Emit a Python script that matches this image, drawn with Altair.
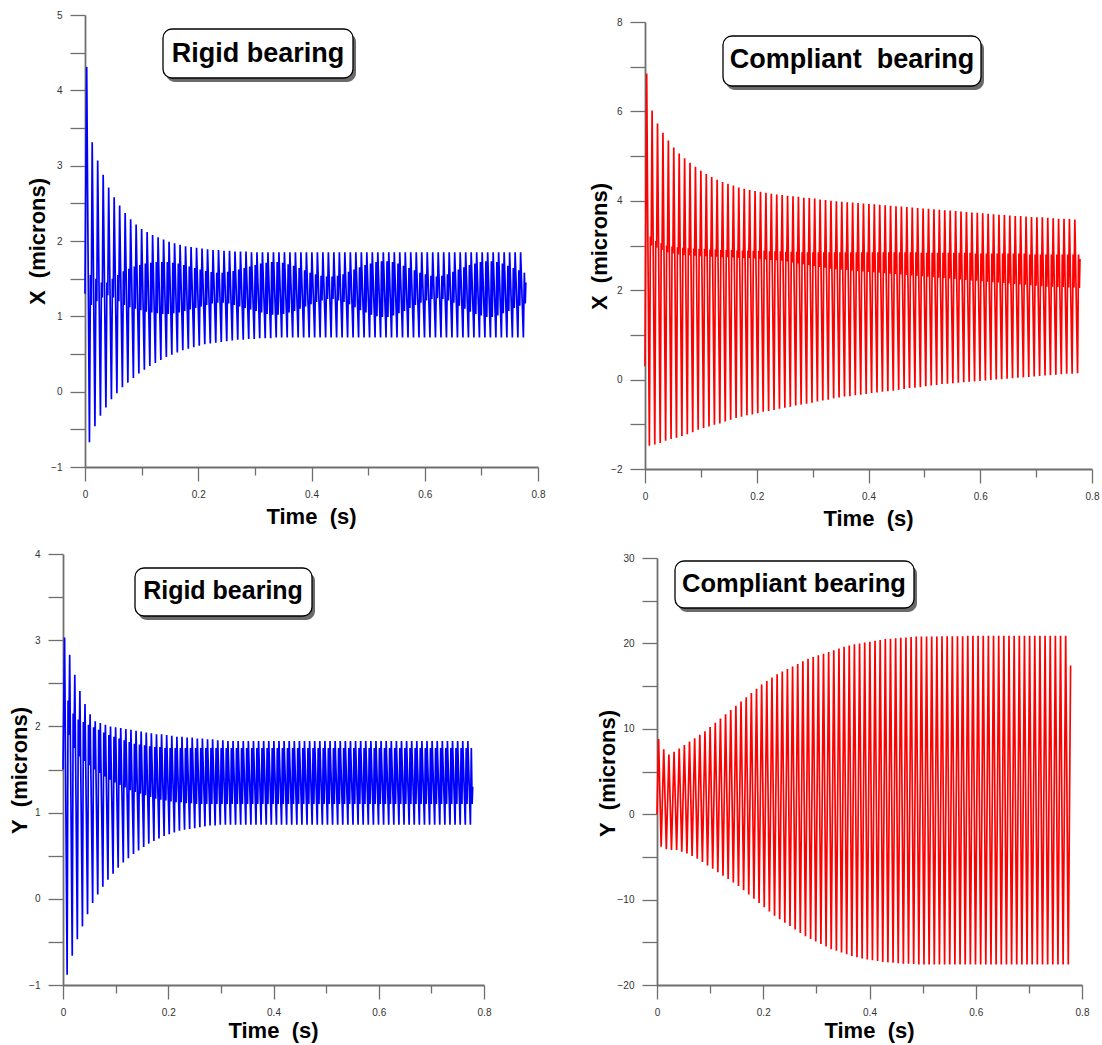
import altair as alt
import pandas as pd

# ---------------- data ----------------
PERIOD = 0.0097          # whirl period (s), ~80 cycles over 0.775 s
T_FIRST = 0.003          # time of first peak

X_TICKS = [0, 0.1, 0.2, 0.3, 0.4, 0.5, 0.6, 0.7, 0.8]

# Rigid bearing, X
rx_start, rx_end = 1.3, 1.45
rx_upper = [4.31, 3.31, 3.07, 2.88, 2.71, 2.58, 2.47, 2.37, 2.29, 2.22,
            2.16, 2.12, 2.08, 2.05, 2.02, 1.99, 1.97, 1.95, 1.93, 1.92,
            1.91, 1.90, 1.89, 1.88, 1.88, 1.87, 1.87, 1.86, 1.86, 1.86] + [1.85] * 50
rx_lower = [-0.67, -0.46, -0.32, -0.21, -0.10, -0.02, 0.06, 0.12, 0.18, 0.24,
            0.29, 0.34, 0.38, 0.42, 0.46, 0.49, 0.52, 0.55, 0.57, 0.59,
            0.61, 0.63, 0.64, 0.65, 0.66, 0.67, 0.68, 0.69, 0.69, 0.70,
            0.70, 0.71, 0.71, 0.71, 0.72] + [0.72] * 45
rx_band_hi = [1.55, 1.50, 1.45, 1.45, 1.50, 1.55, 1.60, 1.63, 1.66, 1.68,
              1.70, 1.71, 1.72, 1.72, 1.72, 1.71, 1.70, 1.68, 1.66, 1.64,
              1.62, 1.60, 1.59, 1.58, 1.58, 1.59, 1.60, 1.62, 1.64, 1.66,
              1.68, 1.70, 1.71, 1.72, 1.72, 1.71, 1.69, 1.67, 1.64, 1.61,
              1.58, 1.56, 1.54, 1.53, 1.53, 1.54, 1.56, 1.59, 1.62, 1.65,
              1.68, 1.70, 1.72, 1.73, 1.73, 1.72, 1.70, 1.67, 1.64, 1.61,
              1.58, 1.56, 1.54, 1.53, 1.54, 1.56, 1.59, 1.62, 1.65, 1.68,
              1.70, 1.72, 1.73, 1.73, 1.72, 1.70, 1.67, 1.64, 1.61, 1.58]
rx_band_lo = [1.15, 1.20, 1.25, 1.28, 1.25, 1.20, 1.15, 1.12, 1.10, 1.08,
              1.06, 1.05, 1.04, 1.03, 1.03, 1.04, 1.05, 1.07, 1.09, 1.11,
              1.13, 1.15, 1.17, 1.18, 1.18, 1.17, 1.15, 1.13, 1.11, 1.09,
              1.07, 1.05, 1.03, 1.02, 1.02, 1.03, 1.05, 1.07, 1.10, 1.13,
              1.16, 1.19, 1.21, 1.23, 1.23, 1.21, 1.19, 1.16, 1.12, 1.08,
              1.05, 1.02, 1.00, 0.99, 0.99, 1.01, 1.04, 1.07, 1.11, 1.15,
              1.18, 1.21, 1.23, 1.24, 1.23, 1.21, 1.18, 1.14, 1.10, 1.06,
              1.03, 1.01, 0.99, 0.99, 1.01, 1.04, 1.07, 1.11, 1.14, 1.17]
rx_yticks = [-1, -0.5, 0, 0.5, 1, 1.5, 2, 2.5, 3, 3.5, 4, 4.5, 5]

# Compliant bearing, X
cx_start, cx_end = 0.3, 2.7
cx_upper = [6.85, 6.02, 5.73, 5.52, 5.35, 5.19, 5.06, 4.95, 4.85, 4.76,
            4.67, 4.60, 4.53, 4.47, 4.42, 4.38, 4.34, 4.30, 4.27, 4.24,
            4.22, 4.20, 4.18, 4.16, 4.14, 4.13, 4.11, 4.10, 4.09, 4.07,
            4.06, 4.05, 4.03, 4.02, 4.00, 3.99, 3.98, 3.97, 3.96, 3.95,
            3.94, 3.93, 3.92, 3.91, 3.90, 3.89, 3.88, 3.87, 3.86, 3.85,
            3.84, 3.83, 3.82, 3.81, 3.80, 3.79, 3.78, 3.77, 3.76, 3.75,
            3.74, 3.73, 3.72, 3.71, 3.70, 3.69, 3.68, 3.67, 3.66, 3.66,
            3.65, 3.64, 3.63, 3.63, 3.62, 3.61, 3.60, 3.60, 3.59, 3.58]
cx_lower = [-1.48, -1.45, -1.42, -1.37, -1.33, -1.30, -1.26, -1.22, -1.18, -1.12,
            -1.08, -1.05, -1.01, -0.98, -0.94, -0.90, -0.86, -0.83, -0.80, -0.78,
            -0.75, -0.72, -0.70, -0.68, -0.65, -0.63, -0.61, -0.58, -0.56, -0.54,
            -0.52, -0.49, -0.47, -0.45, -0.42, -0.40, -0.38, -0.37, -0.35, -0.34,
            -0.32, -0.30, -0.29, -0.27, -0.26, -0.25, -0.23, -0.21, -0.19, -0.18,
            -0.17, -0.15, -0.13, -0.12, -0.10, -0.09, -0.08, -0.07, -0.06, -0.05,
            -0.04, -0.03, -0.02, -0.01, 0.00, 0.01, 0.02, 0.03, 0.04, 0.05,
            0.06, 0.07, 0.08, 0.09, 0.10, 0.11, 0.12, 0.13, 0.13, 0.14]
cx_band_hi = [3.20, 3.10, 3.05, 3.00, 2.98, 2.96, 2.95, 2.94, 2.93, 2.92,
              2.92, 2.91, 2.91, 2.90, 2.90, 2.90, 2.89, 2.89, 2.89, 2.88,
              2.88, 2.88, 2.87, 2.87, 2.87, 2.86, 2.86, 2.86, 2.85, 2.85] \
             + [2.85] * 20 + [2.84] * 10 + [2.82] * 10 + [2.80] * 10
cx_band_lo = [3.00, 2.95, 2.90, 2.85, 2.82, 2.80, 2.79, 2.78, 2.77, 2.76,
              2.76, 2.75, 2.75, 2.74, 2.74, 2.73, 2.73, 2.72, 2.72, 2.71,
              2.70, 2.69, 2.68, 2.67, 2.66, 2.64, 2.62, 2.60, 2.58, 2.56,
              2.54, 2.52, 2.50, 2.48, 2.47, 2.46, 2.45, 2.44, 2.43, 2.42,
              2.41, 2.40, 2.39, 2.38, 2.37, 2.36, 2.35, 2.34, 2.33, 2.32,
              2.31, 2.30, 2.29, 2.28, 2.27, 2.26, 2.25, 2.24, 2.23, 2.22,
              2.21, 2.20, 2.19, 2.18, 2.17, 2.16, 2.15, 2.14, 2.13, 2.12,
              2.11, 2.10, 2.09, 2.08, 2.08, 2.07, 2.07, 2.06, 2.06, 2.05]
cx_yticks = [-2, -1, 0, 1, 2, 3, 4, 5, 6, 7, 8]

# Rigid bearing, Y
ry_start, ry_end = 1.5, 1.3
ry_upper = [3.03, 2.83, 2.60, 2.41, 2.26, 2.14, 2.06, 2.04, 2.02, 2.00,
            1.99, 1.98, 1.97, 1.96, 1.95, 1.94, 1.93, 1.92, 1.91, 1.91,
            1.90, 1.89, 1.88, 1.88, 1.87, 1.87, 1.86, 1.86, 1.85, 1.85,
            1.84, 1.84] + [1.83] * 48
ry_lower = [-0.88, -0.66, -0.47, -0.32, -0.18, -0.05, 0.05, 0.14, 0.22, 0.29,
            0.36, 0.42, 0.47, 0.52, 0.56, 0.60, 0.64, 0.67, 0.70, 0.73,
            0.75, 0.77, 0.79, 0.80, 0.81, 0.82, 0.83, 0.84, 0.85, 0.85,
            0.86, 0.86] + [0.86] * 48
ry_band_hi = [2.30, 2.15, 2.08, 2.05, 2.02, 1.99, 1.96, 1.93, 1.90, 1.88,
              1.86, 1.84, 1.82, 1.80, 1.79, 1.78, 1.77, 1.76, 1.76, 1.75] + [1.75] * 60
ry_band_lo = [1.90, 1.75, 1.65, 1.60, 1.55, 1.50, 1.46, 1.42, 1.38, 1.35,
              1.32, 1.29, 1.26, 1.24, 1.22, 1.20, 1.18, 1.16, 1.15, 1.14,
              1.13, 1.12, 1.12, 1.11, 1.11] + [1.10] * 55
ry_yticks = [-1, -0.5, 0, 0.5, 1, 1.5, 2, 2.5, 3, 3.5, 4]

# Compliant bearing, Y
cy_start, cy_end = 0.0, 17.4
cy_upper = [8.8, 7.6, 7.0, 7.3, 7.7, 8.1, 8.5, 8.9, 9.3, 9.7,
            10.2, 10.7, 11.2, 11.7, 12.2, 12.7, 13.2, 13.7, 14.2, 14.7,
            15.2, 15.6, 16.0, 16.4, 16.7, 17.0, 17.3, 17.6, 17.9, 18.2,
            18.4, 18.6, 18.8, 19.0, 19.2, 19.4, 19.6, 19.75, 19.9, 20.0,
            20.1, 20.2, 20.3, 20.4, 20.5, 20.55, 20.6, 20.65, 20.7, 20.75] \
           + [20.8] * 5 + [20.85] * 5 + [20.9] * 20
cy_lower = [-3.8, -4.1, -4.2, -4.2, -4.4, -4.6, -4.9, -5.2, -5.6, -6.0,
            -6.4, -6.8, -7.2, -7.6, -8.0, -8.4, -8.9, -9.4, -9.9, -10.4,
            -10.9, -11.4, -11.9, -12.3, -12.7, -13.1, -13.5, -13.9, -14.3, -14.6,
            -14.9, -15.2, -15.5, -15.8, -16.0, -16.2, -16.4, -16.6, -16.75, -16.9,
            -17.0, -17.1, -17.2, -17.3, -17.35, -17.4, -17.45, -17.5, -17.5, -17.55] \
           + [-17.6] * 30
cy_yticks = [-20, -15, -10, -5, 0, 5, 10, 15, 20, 25, 30]

LABELS = ["Rigid bearing", "Compliant\u00a0 bearing", "Rigid bearing", "Compliant bearing"]
Y_TITLES = ["X\u00a0 (microns)", "X\u00a0 (microns)", "Y\u00a0 (microns)", "Y\u00a0 (microns)"]
X_TITLE = "Time\u00a0 (s)"

# ---------------- layout / style (not data) ----------------
W, H = 1102, 1045
FONT = "Liberation Sans"
AXIS_GREY = "#6f6f6f"
LINE_W = 1.7


def build_trace(start, upper, lower, hi, lo, end):
    ts, vs = [0.0], [start]
    for i in range(len(upper)):
        t = T_FIRST + i * PERIOD
        ts += [t, t + 0.5 * PERIOD]
        vs += [upper[i], lower[i]]
        if hi is not None:
            ts += [t + 0.68 * PERIOD, t + 0.84 * PERIOD]
            vs += [hi[i], lo[i]]
    ts.append(T_FIRST + (len(upper) - 1) * PERIOD + 0.95 * PERIOD)
    vs.append(end)
    return pd.DataFrame({"t": ts, "v": vs, "k": list(range(len(ts)))})


def label_expr(step):
    return (f"abs(datum.value / {step} - round(datum.value / {step})) < 1e-6 "
            f"? format(datum.value, '~g') : ''")


def panel(df, color, xr, yr, ydom, yticks, ystep, ytitle, ytitle_xy, xtitle_xy,
          box, label, label_xy, label_size):
    x0, x1 = xr
    ybot, ytop = yr
    x_axis = alt.Axis(
        orient="bottom", offset=-(H - ybot), values=X_TICKS,
        labelExpr=label_expr(0.2), grid=False,
        tickSize={"condition": {"test": "round(datum.value * 10) % 2 == 0", "value": 14},
                  "value": 8},
        tickColor=AXIS_GREY, tickWidth=1.3, domainColor=AXIS_GREY, domainWidth=1.8,
        labelFont=FONT, labelFontSize=10, labelColor="#333333", labelPadding=8,
        labelFlush=False, labelOverlap=False,
        title=X_TITLE, titleFont=FONT, titleFontSize=22, titleFontWeight="bold",
        titleColor="black", titleX=xtitle_xy[0], titleY=xtitle_xy[1],
        titleBaseline="middle", titleAlign="center", titleAngle=0,
    )
    y_axis = alt.Axis(
        orient="left", offset=-x0, values=yticks, labelExpr=label_expr(ystep),
        grid=False, tickSize=15, tickColor=AXIS_GREY, tickWidth=1.3,
        domainColor=AXIS_GREY, domainWidth=1.8,
        labelFont=FONT, labelFontSize=10, labelColor="#333333", labelPadding=8,
        labelFlush=False, labelOverlap=False,
        title=ytitle, titleFont=FONT, titleFontSize=22, titleFontWeight="bold",
        titleColor="black", titleX=ytitle_xy[0], titleY=ytitle_xy[1],
        titleBaseline="middle", titleAlign="center", titleAngle=-90,
    )
    line = alt.Chart(df).mark_line(color=color, strokeWidth=LINE_W).encode(
        x=alt.X("t:Q", scale=alt.Scale(domain=[0, 0.8], range=[x0, x1], nice=False, zero=False),
                axis=x_axis),
        y=alt.Y("v:Q", scale=alt.Scale(domain=ydom, range=[ybot, ytop], nice=False, zero=False),
                axis=y_axis),
        order="k:Q",
    )
    lab = pd.DataFrame({"label": [label]})
    bx1, bx2, by1, by2 = box
    shadow = alt.Chart(lab).mark_rect(cornerRadius=9, fill="#505050", opacity=0.85).encode(
        x=alt.value(bx1 + 3), x2=alt.value(bx2 + 3), y=alt.value(by1 + 4), y2=alt.value(by2 + 4))
    frame = alt.Chart(lab).mark_rect(cornerRadius=9, fill="white", stroke="black",
                                     strokeWidth=1.3).encode(
        x=alt.value(bx1), x2=alt.value(bx2), y=alt.value(by1), y2=alt.value(by2))
    text = alt.Chart(lab).mark_text(font=FONT, fontWeight="bold", fontSize=label_size,
                                    align="center", baseline="alphabetic", color="black").encode(
        text="label:N", x=alt.value(label_xy[0]), y=alt.value(label_xy[1]))
    return alt.layer(line, shadow, frame, text)


p_rx = panel(build_trace(rx_start, rx_upper, rx_lower, rx_band_hi, rx_band_lo, rx_end),
             "#0000ff", (85, 538), (467, 15), [-1, 5], rx_yticks, 1, Y_TITLES[0],
             (-48, 241), (311, 49), (163, 353, 29, 78), LABELS[0], (258, 62), 27)
p_cx = panel(build_trace(cx_start, cx_upper, cx_lower, cx_band_hi, cx_band_lo, cx_end),
             "#ff0000", (645, 1092), (469, 22), [-2, 8], cx_yticks, 2, Y_TITLES[1],
             (-46, 246), (868, 49), (723, 981, 36, 86), LABELS[1], (852, 68), 27)
p_ry = panel(build_trace(ry_start, ry_upper, ry_lower, ry_band_hi, ry_band_lo, ry_end),
             "#0000ff", (63, 484), (985, 554), [-1, 4], ry_yticks, 1, Y_TITLES[2],
             (-44, 770), (273, 45), (135, 312, 568, 616), LABELS[2], (223, 599), 25)
p_cy = panel(build_trace(cy_start, cy_upper, cy_lower, None, None, cy_end),
             "#ff0000", (657, 1082), (985, 558), [-20, 30], cy_yticks, 10, Y_TITLES[3],
             (-50, 773), (869, 45), (675, 914, 561, 608), LABELS[3], (794, 592), 25.5)

chart = alt.layer(p_rx, p_cx, p_ry, p_cy).resolve_scale(
    x="independent", y="independent"
).resolve_axis(
    x="independent", y="independent"
).properties(
    width=W, height=H, padding=0,
    autosize=alt.AutoSizeParams(type="none"),
    background="white",
).configure_view(stroke=None)

chart.save("out.html", embed_options={"renderer": "svg", "actions": False})
